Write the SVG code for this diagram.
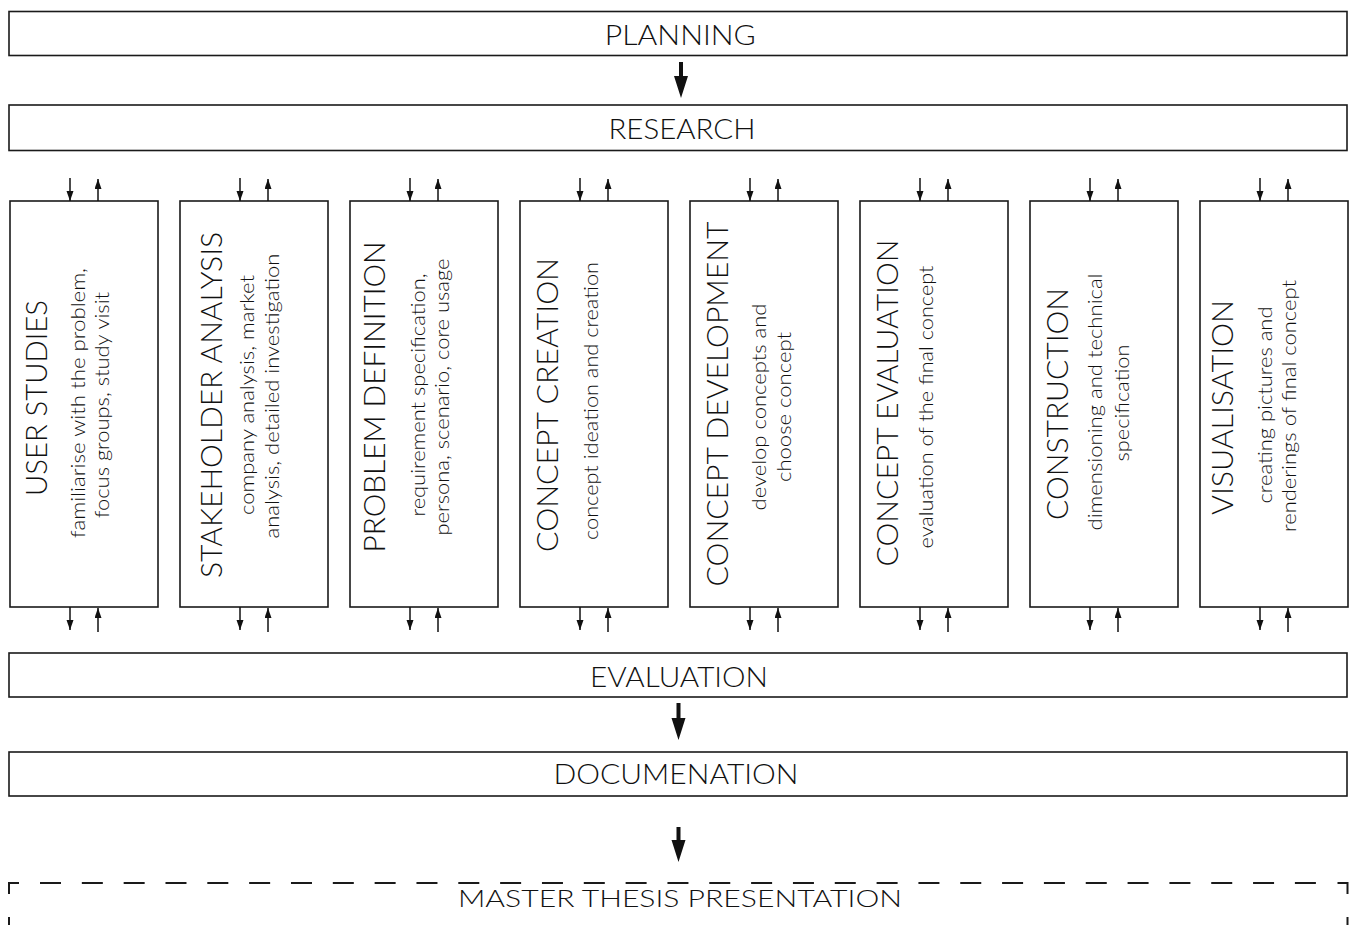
<svg xmlns="http://www.w3.org/2000/svg" width="1351" height="925" viewBox="0 0 1351 925">
<style>
  .box{fill:#fff;stroke:#1a1a1a;stroke-width:1.6}
  .h{font-family:Lato,"Liberation Sans",sans-serif;font-weight:300;font-size:28px;fill:#111;text-anchor:middle}
  .t{font-family:Lato,"Liberation Sans",sans-serif;font-weight:300;font-size:30px;fill:#111;text-anchor:middle}
  .s{font-family:Lato,"Liberation Sans",sans-serif;font-weight:300;font-size:19px;fill:#111;text-anchor:middle}
  .sa{stroke:#111;stroke-width:1.5;fill:none;marker-end:url(#ah)}
  .big{fill:#111}
  .dash{stroke:#1a1a1a;stroke-width:2;fill:none}
</style>
<defs>
  <marker id="ah" markerUnits="userSpaceOnUse" markerWidth="11" markerHeight="8" refX="10" refY="3.5" orient="auto">
    <path d="M0,0 L10,3.5 L0,7 Z" fill="#111"/>
  </marker>
</defs>
<rect width="1351" height="925" fill="#fff"/>

<g id="planning"><rect class="box" x="9" y="11.5" width="1338" height="44"/><text class="h" x="680.3" y="45" textLength="151" lengthAdjust="spacingAndGlyphs">PLANNING</text></g>
<g id="research"><rect class="box" x="9" y="105" width="1338" height="45.5"/><text class="h" x="682" y="139.3" textLength="147" lengthAdjust="spacingAndGlyphs">RESEARCH</text></g>

<g id="user-studies"><rect class="box" x="10" y="201" width="148" height="406"/>
  <text class="t" transform="translate(47,398) rotate(-90)" textLength="196" lengthAdjust="spacingAndGlyphs">USER STUDIES</text>
  <text class="s" transform="translate(85,403) rotate(-90)" textLength="270" lengthAdjust="spacingAndGlyphs">familiarise with the problem,</text>
  <text class="s" transform="translate(109,405) rotate(-90)" textLength="226" lengthAdjust="spacingAndGlyphs">focus groups, study visit</text></g>
<g id="stakeholder-analysis"><rect class="box" x="180" y="201" width="148" height="406"/>
  <text class="t" transform="translate(222,405) rotate(-90)" textLength="346" lengthAdjust="spacingAndGlyphs">STAKEHOLDER ANALYSIS</text>
  <text class="s" transform="translate(254,395) rotate(-90)" textLength="240" lengthAdjust="spacingAndGlyphs">company analysis, market</text>
  <text class="s" transform="translate(279,396) rotate(-90)" textLength="285" lengthAdjust="spacingAndGlyphs">analysis, detailed investigation</text></g>
<g id="problem-definition"><rect class="box" x="350" y="201" width="148" height="406"/>
  <text class="t" transform="translate(385,397) rotate(-90)" textLength="311" lengthAdjust="spacingAndGlyphs">PROBLEM DEFINITION</text>
  <text class="s" transform="translate(425,395) rotate(-90)" textLength="243" lengthAdjust="spacingAndGlyphs">requirement specification,</text>
  <text class="s" transform="translate(449,397) rotate(-90)" textLength="277" lengthAdjust="spacingAndGlyphs">persona, scenario, core usage</text></g>
<g id="concept-creation"><rect class="box" x="520" y="201" width="148" height="406"/>
  <text class="t" transform="translate(558,405) rotate(-90)" textLength="294" lengthAdjust="spacingAndGlyphs">CONCEPT CREATION</text>
  <text class="s" transform="translate(598,401) rotate(-90)" textLength="278" lengthAdjust="spacingAndGlyphs">concept ideation and creation</text></g>
<g id="concept-development"><rect class="box" x="690" y="201" width="148" height="406"/>
  <text class="t" transform="translate(728,404) rotate(-90)" textLength="365" lengthAdjust="spacingAndGlyphs">CONCEPT DEVELOPMENT</text>
  <text class="s" transform="translate(766,407) rotate(-90)" textLength="207" lengthAdjust="spacingAndGlyphs">develop concepts and</text>
  <text class="s" transform="translate(791,407) rotate(-90)" textLength="150" lengthAdjust="spacingAndGlyphs">choose concept</text></g>
<g id="concept-evaluation"><rect class="box" x="860" y="201" width="148" height="406"/>
  <text class="t" transform="translate(898,403) rotate(-90)" textLength="327" lengthAdjust="spacingAndGlyphs">CONCEPT EVALUATION</text>
  <text class="s" transform="translate(933,407) rotate(-90)" textLength="283" lengthAdjust="spacingAndGlyphs">evaluation of the final concept</text></g>
<g id="construction"><rect class="box" x="1030" y="201" width="148" height="406"/>
  <text class="t" transform="translate(1068,404) rotate(-90)" textLength="232" lengthAdjust="spacingAndGlyphs">CONSTRUCTION</text>
  <text class="s" transform="translate(1102,402) rotate(-90)" textLength="257" lengthAdjust="spacingAndGlyphs">dimensioning and technical</text>
  <text class="s" transform="translate(1129,403) rotate(-90)" textLength="117" lengthAdjust="spacingAndGlyphs">specification</text></g>
<g id="visualisation"><rect class="box" x="1200" y="201" width="148" height="406"/>
  <text class="t" transform="translate(1233,407.5) rotate(-90)" textLength="215" lengthAdjust="spacingAndGlyphs">VISUALISATION</text>
  <text class="s" transform="translate(1272,405) rotate(-90)" textLength="197" lengthAdjust="spacingAndGlyphs">creating pictures and</text>
  <text class="s" transform="translate(1296,406) rotate(-90)" textLength="252" lengthAdjust="spacingAndGlyphs">renderings of final concept</text></g>

<g id="evaluation"><rect class="box" x="9" y="653" width="1338" height="44"/><text class="h" x="679" y="686.7" textLength="178" lengthAdjust="spacingAndGlyphs">EVALUATION</text></g>
<g id="documenation"><rect class="box" x="9" y="752" width="1338" height="44"/><text class="h" x="676" y="783.5" textLength="245" lengthAdjust="spacingAndGlyphs">DOCUMENATION</text></g>
<g id="master-thesis-presentation">
  <path class="dash" d="M9,894 V883 H19 M1337.5,883 H1347.5 V894 M9,917 V930 M1347.5,917 V930"/>
  <path class="dash" d="M40,883 H1317" stroke-dasharray="21 20.83"/>
  <text class="h" x="680" y="906.5" style="font-size:24px" textLength="444" lengthAdjust="spacingAndGlyphs">MASTER THESIS PRESENTATION</text>
</g>

<g id="connectors">
  <path class="big" d="M679,62 H683 V76 H688 L681,98 L674,76 H679 Z"/>
  <path class="big" d="M676.5,703 H680.5 V718 H685.5 L678.5,740 L671.5,718 H676.5 Z"/>
  <path class="big" d="M676.5,827 H680.5 V840 H685.5 L678.5,862 L671.5,840 H676.5 Z"/>

  <line class="sa" x1="70" y1="178" x2="70" y2="201"/>
  <line class="sa" x1="98" y1="201" x2="98" y2="179"/>
  <line class="sa" x1="240" y1="178" x2="240" y2="201"/>
  <line class="sa" x1="268" y1="201" x2="268" y2="179"/>
  <line class="sa" x1="410" y1="178" x2="410" y2="201"/>
  <line class="sa" x1="438" y1="201" x2="438" y2="179"/>
  <line class="sa" x1="580" y1="178" x2="580" y2="201"/>
  <line class="sa" x1="608" y1="201" x2="608" y2="179"/>
  <line class="sa" x1="750" y1="178" x2="750" y2="201"/>
  <line class="sa" x1="778" y1="201" x2="778" y2="179"/>
  <line class="sa" x1="920" y1="178" x2="920" y2="201"/>
  <line class="sa" x1="948" y1="201" x2="948" y2="179"/>
  <line class="sa" x1="1090" y1="178" x2="1090" y2="201"/>
  <line class="sa" x1="1118" y1="201" x2="1118" y2="179"/>
  <line class="sa" x1="1260" y1="178" x2="1260" y2="201"/>
  <line class="sa" x1="1288" y1="201" x2="1288" y2="179"/>

  <line class="sa" x1="70" y1="607" x2="70" y2="630"/>
  <line class="sa" x1="98" y1="632" x2="98" y2="608"/>
  <line class="sa" x1="240" y1="607" x2="240" y2="630"/>
  <line class="sa" x1="268" y1="632" x2="268" y2="608"/>
  <line class="sa" x1="410" y1="607" x2="410" y2="630"/>
  <line class="sa" x1="438" y1="632" x2="438" y2="608"/>
  <line class="sa" x1="580" y1="607" x2="580" y2="630"/>
  <line class="sa" x1="608" y1="632" x2="608" y2="608"/>
  <line class="sa" x1="750" y1="607" x2="750" y2="630"/>
  <line class="sa" x1="778" y1="632" x2="778" y2="608"/>
  <line class="sa" x1="920" y1="607" x2="920" y2="630"/>
  <line class="sa" x1="948" y1="632" x2="948" y2="608"/>
  <line class="sa" x1="1090" y1="607" x2="1090" y2="630"/>
  <line class="sa" x1="1118" y1="632" x2="1118" y2="608"/>
  <line class="sa" x1="1260" y1="607" x2="1260" y2="630"/>
  <line class="sa" x1="1288" y1="632" x2="1288" y2="608"/>
</g>
</svg>
